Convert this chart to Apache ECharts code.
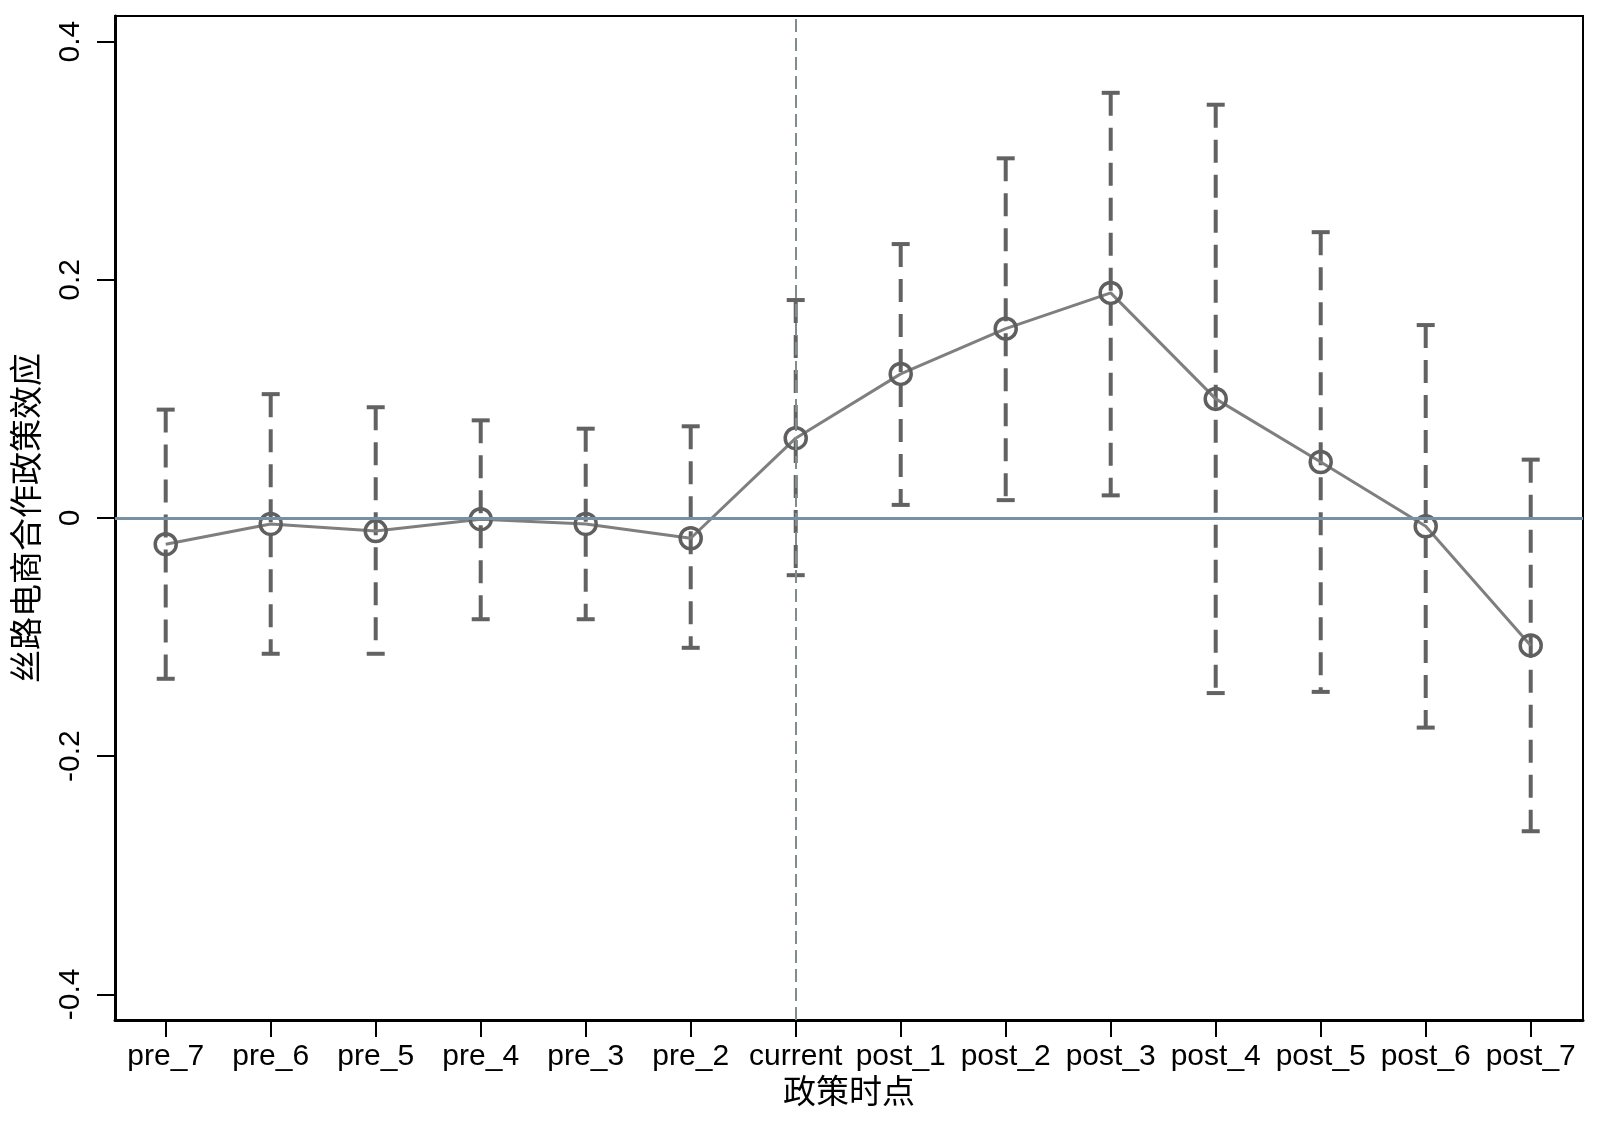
<!DOCTYPE html>
<html>
<head>
<meta charset="utf-8">
<script src="https://cdn.jsdelivr.net/npm/echarts@6/dist/echarts.min.js"></script>
<style>
html,body{margin:0;padding:0;background:#fff;}
#chart{width:1600px;height:1124px;}
</style>
</head>
<body>
<div id="chart"></div>
<script>
// ---- data ----
const categories = ['pre_7','pre_6','pre_5','pre_4','pre_3','pre_2','current','post_1','post_2','post_3','post_4','post_5','post_6','post_7'];
const coef  = [-0.022, -0.005, -0.011, -0.001, -0.005, -0.017, 0.067, 0.121, 0.159, 0.189, 0.100, 0.047, -0.007, -0.107];
const upper = [0.091, 0.104, 0.093, 0.082, 0.075, 0.077, 0.183, 0.230, 0.302, 0.357, 0.347, 0.240, 0.162, 0.049];
const lower = [-0.135, -0.114, -0.114, -0.085, -0.085, -0.109, -0.048, 0.011, 0.015, 0.019, -0.147, -0.146, -0.176, -0.263];
const yTicks = [-0.4, -0.2, 0, 0.2, 0.4];
const policyIndex = 6;   // "current"
const refValue = 0;
const xTitle = '政策时点';
const yTitle = '丝路电商合作政策效应';

const xIdx = categories.map((c, i) => i);
const pointData = coef.map((v, i) => [i, v]);
const barData = coef.map((v, i) => [i, upper[i], lower[i]]);

const latin = '"Liberation Sans", Arial, sans-serif';
const cjk = '"Liberation Sans", "Noto Sans CJK SC", sans-serif';

const chart = echarts.init(document.getElementById('chart'));
chart.setOption({
  backgroundColor: '#fff',
  animation: false,
  grid: { left: 115, right: 17, top: 16, bottom: 104, show: true, borderColor: '#000', borderWidth: 2, containLabel: false },
  xAxis: {
    type: 'value', min: -0.483, max: 13.498,
    name: xTitle, nameLocation: 'middle', nameGap: 57,
    nameTextStyle: { fontSize: 33, color: '#000', fontFamily: cjk },
    axisLine: { show: true, onZero: false, lineStyle: { color: '#000', width: 3 } },
    axisTick: { show: true, customValues: xIdx, length: 17, lineStyle: { color: '#000', width: 2 } },
    axisLabel: { customValues: xIdx, formatter: v => categories[Math.round(v)], fontSize: 30, color: '#000', fontFamily: latin, margin: 22 },
    splitLine: { show: false }
  },
  yAxis: {
    type: 'value', min: -0.4215, max: 0.4215,
    name: yTitle, nameLocation: 'middle', nameGap: 70, nameRotate: 90,
    nameTextStyle: { fontSize: 33, color: '#000', fontFamily: cjk },
    axisLine: { show: true, onZero: false, lineStyle: { color: '#000', width: 3 } },
    axisTick: { show: true, customValues: yTicks, length: 18, lineStyle: { color: '#000', width: 2 } },
    axisLabel: { customValues: yTicks, rotate: 90, fontSize: 30, color: '#000', fontFamily: latin, margin: 29 },
    splitLine: { show: false }
  },
  series: [
    {
      type: 'line', data: [[refValue, refValue]], symbol: 'none', silent: true,
      lineStyle: { opacity: 0 },
      markLine: {
        silent: true, symbol: 'none', label: { show: false },
        data: [
          { xAxis: policyIndex, lineStyle: { color: '#7e8e8e', width: 2, type: [13, 6] } },
          { yAxis: refValue, lineStyle: { color: '#7890a3', width: 3, type: 'solid' } }
        ]
      },
      z: 1
    },
    {
      type: 'custom', data: barData, encode: { x: 0, y: [1, 2] }, z: 2,
      renderItem: function (params, api) {
        const x = api.value(0);
        const hi = api.coord([x, api.value(1)]);
        const lo = api.coord([x, api.value(2)]);
        const c = '#626262', cw = 9;
        return {
          type: 'group',
          children: [
            { type: 'line', shape: { x1: hi[0], y1: hi[1], x2: lo[0], y2: lo[1] }, style: { stroke: c, lineWidth: 4, lineDash: [23, 12] } },
            { type: 'line', shape: { x1: hi[0] - cw, y1: hi[1], x2: hi[0] + cw, y2: hi[1] }, style: { stroke: c, lineWidth: 4 } },
            { type: 'line', shape: { x1: lo[0] - cw, y1: lo[1], x2: lo[0] + cw, y2: lo[1] }, style: { stroke: c, lineWidth: 4 } }
          ]
        };
      }
    },
    {
      type: 'line', data: pointData, z: 3,
      symbol: 'circle', symbolSize: 21,
      itemStyle: { color: 'rgba(255,255,255,0)', borderColor: '#5f5f5f', borderWidth: 3.5 },
      lineStyle: { color: '#7f7f7f', width: 3 }
    }
  ]
});
</script>
</body>
</html>
